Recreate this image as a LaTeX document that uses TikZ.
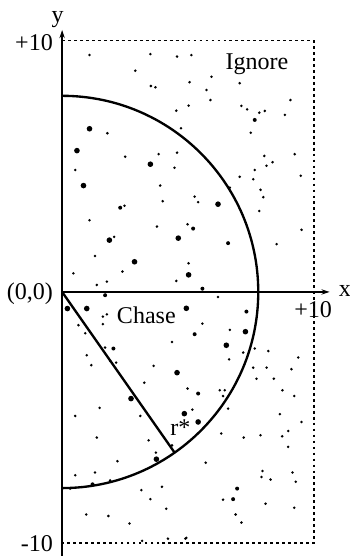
\documentclass[tikz,border=0pt]{standalone}
\usepackage{fontspec}
\setmainfont{Liberation Serif}
\usepackage{tikz}
\usetikzlibrary{arrows.meta}

\begin{document}
\begin{tikzpicture}[x=0.754cm,y=0.754cm,
      lbl/.style={font=\fontsize{20.5}{24}\selectfont,inner sep=0pt},
      axis/.style={line width=2.1pt,-{Stealth[length=7pt,width=4.5pt]}},
      bound/.style={line width=1.6pt,dash pattern=on 2.4pt off 2.7pt},
      rim/.style={line width=2pt}]
    \useasboundingbox (-2.47,-10.58) rectangle (11.43,11.61);
    \coordinate (o) at (0,0);
    \coordinate (ybot) at (0,-10.5);
    \coordinate (ytop) at (0,10.42);
    \coordinate (xend) at (10.64,0);
    \coordinate (tl) at (0,10);
    \coordinate (tr) at (10,10);
    \coordinate (br) at (10,-10);
    \coordinate (bl) at (0,-10);
    \coordinate (rs) at (-55:7.8);
    % the points
    \foreach \x/\y in {1.09/9.42,3.51/9.46,4.57/9.36,2.91/8.80,5.07/8.34,3.53/8.19,3.71/8.14,
        5.03/7.41,4.54/7.21,4.73/6.51,1.80/6.31,3.84/5.48,4.57/5.54,2.51/5.38,4.47/4.94,
        0.52/4.85,3.90/4.23,4.00/3.61,2.48/3.43,5.14/9.42,5.94/8.56,7.06/8.30,5.74/8.03,
        5.90/7.63,9.08/7.63,7.13/7.40,7.36/7.26,7.84/7.13,8.06/7.20,8.86/7.04,7.50/6.33,
        9.25/5.48,8.04/5.41,8.37/5.16,8.13/5.02,7.66/4.85,7.06/4.58,7.60/4.48,9.49/4.62,
        7.89/4.06,8.00/3.77,5.27/3.79,5.41/3.57,6.67/4.15,1.09/2.85,3.77/2.60,4.99/2.69,
        2.07/2.19,1.31/1.43,5.03/1.14,0.45/0.74,2.40/0.81,1.38/0.28,1.78/0.41,4.54/0.44,
        1.78/-0.89,1.62/-0.98,1.62/-1.28,0.65/-1.32,0.92/-1.64,4.37/-1.99,1.71/-2.21,
        0.98/-2.52,1.91/-2.74,2.15/-2.81,1.16/-2.91,3.64/-2.94,7.84/3.22,9.52/2.47,
        8.53/1.90,6.20/-0.20,5.58/-1.26,6.67/-1.51,7.20/-2.41,7.66/-2.25,8.20/-2.35,
        6.64/-2.68,9.39/-2.61,7.60/-3.01,8.13/-3.01,9.12/-3.07,3.27/-3.61,4.99/-3.84,
        1.49/-4.61,0.52/-4.93,3.11/-4.93,1.38/-5.79,3.44/-5.90,4.37/-6.10,3.73/-6.39,
        2.20/-6.73,0.52/-7.29,1.31/-7.18,1.91/-7.49,0.32/-7.82,3.15/-7.88,3.97/-7.75,
        3.51/-8.24,4.14/-8.62,0.96/-8.85,1.84/-8.91,2.68/-9.21,3.18/-9.90,4.21/-9.81,
        4.90/-9.81,7.73/-3.45,8.42/-3.45,6.27/-3.91,6.47/-3.91,6.40/-4.14,8.76/-3.91,
        9.23/-4.14,5.18/-4.68,6.60/-4.64,8.66/-4.86,9.52/-5.17,6.33/-5.63,7.22/-5.79,
        7.89/-5.70,8.75/-5.74,8.99/-5.53,8.99/-6.16,5.71/-6.79,7.97/-7.12,7.93/-7.36,
        8.29/-7.46,9.16/-7.18,9.29/-7.55,6.40/-8.26,8.09/-8.42,9.23/-8.58,6.90/-8.85,
        7.13/-9.17,4.94/-9.78}
      \fill (\x,\y) circle (1.2pt);
    \foreach \x/\y in {2.31/3.35,7.66/6.84,1.71/-0.13,2.04/-2.25,5.21/2.52,6.60/1.94,
        5.58/0.13,7.33/-0.78,5.27/-1.68,1.21/-7.65,5.41/-4.04,6.96/-7.82,6.80/-8.24}
      \fill (\x,\y) circle (1.7pt);
    \foreach \x/\y in {1.09/6.49,0.59/5.62,3.51/5.08,0.85/4.23,6.20/3.49,1.88/2.06,
        4.62/2.14,2.88/1.20,5.03/0.68,0.21/-0.66,0.98/-0.66,4.94/-0.65,4.57/-3.21,
        7.29/-1.58,6.53/-2.12,2.74/-4.24,4.86/-4.84,3.75/-6.65,5.41/-5.17}
      \fill (\x,\y) circle (2.4pt);
    % frame, axes, region
    \draw[bound] (tl) -- (tr) -- (br) -- (bl);
    \draw[axis] (ybot) -- (ytop);
    \draw[axis] (o) -- (xend);
    \draw[rim] (0,7.8) arc (90:-90:7.8);
    \draw[rim] (o) -- (rs);
    \node[lbl,anchor=base] (ylab) at (-0.18,10.70) {y};
    \node[lbl,anchor=base west] (xlab) at (11.0,-0.2) {x};
    \node[lbl,anchor=base east] (ymax) at (-0.36,9.62) {+10};
    \node[lbl,anchor=base east] (ymin) at (-0.36,-10.34) {-10};
    \node[lbl,anchor=base east] (olab) at (-0.36,-0.32) {(0,0)};
    \node[lbl,anchor=base] (xmax) at (9.98,-1.0) {+10};
    \node[lbl,anchor=base] (ign) at (7.75,8.83) {Ignore};
    \node[lbl,anchor=base] (chs) at (3.35,-1.27) {Chase};
    \node[lbl,anchor=base west] (rlab) at (4.30,-5.69) {r*};
\end{tikzpicture}
\end{document}
